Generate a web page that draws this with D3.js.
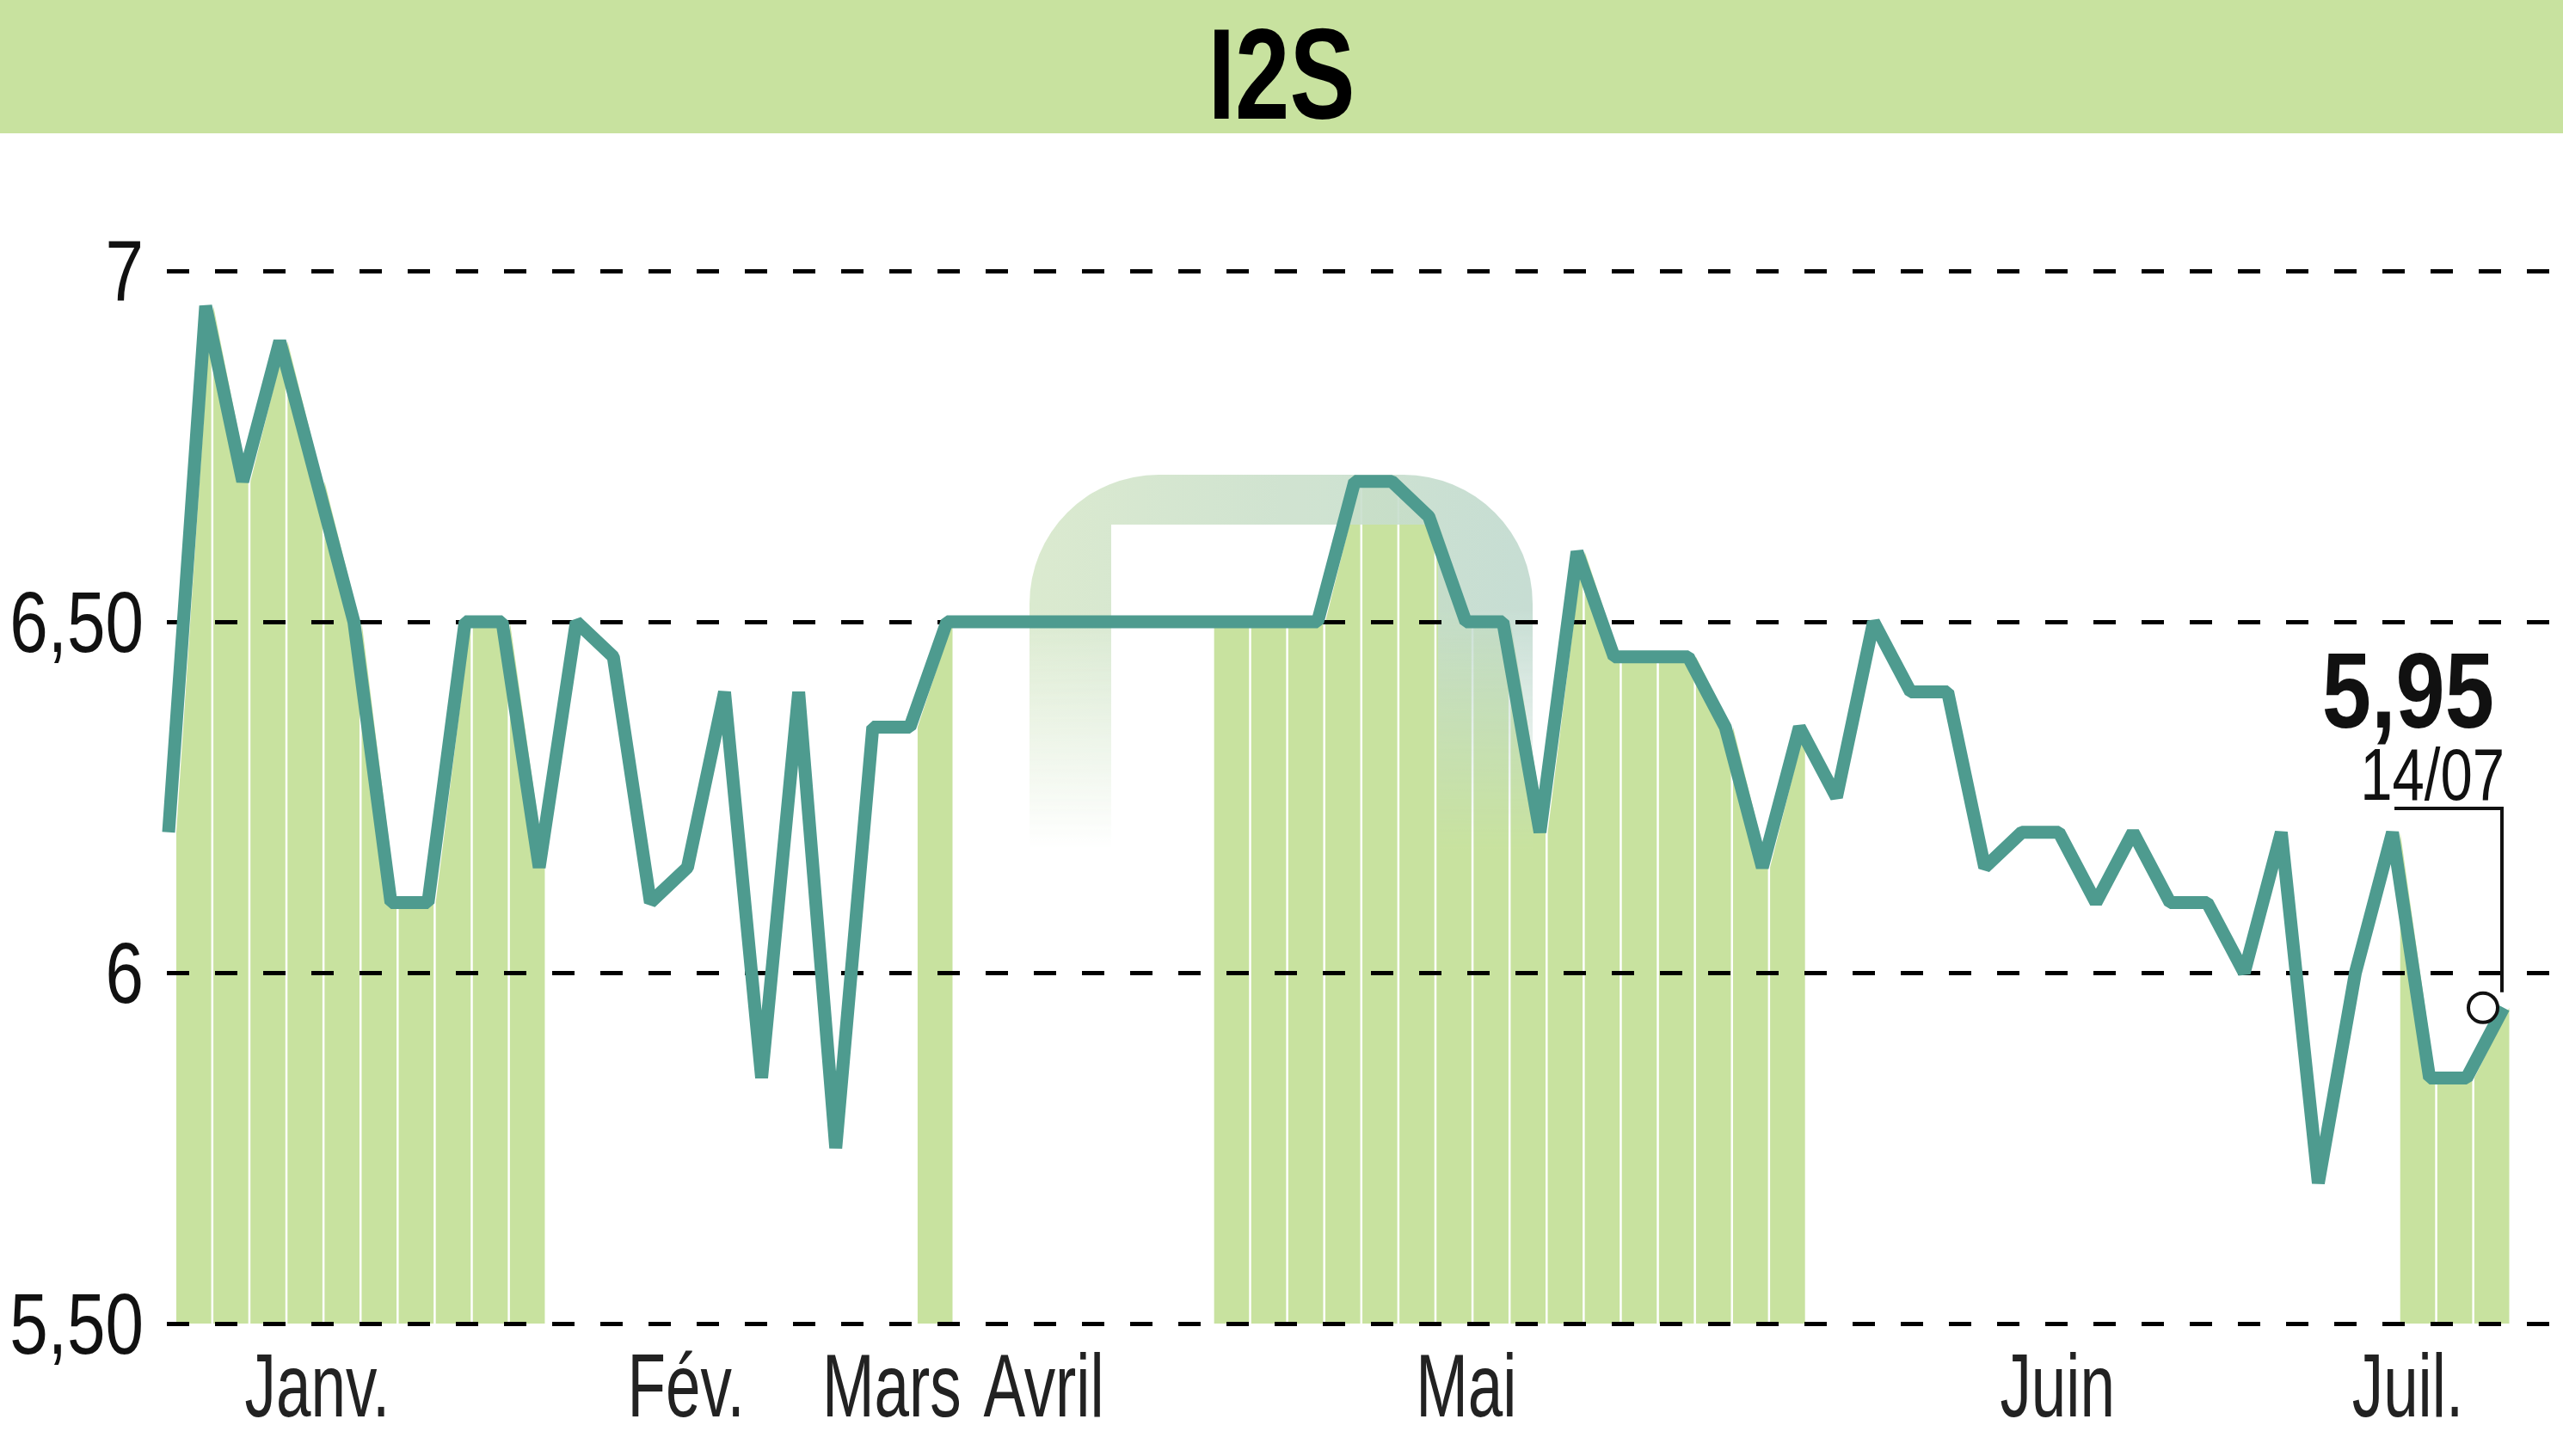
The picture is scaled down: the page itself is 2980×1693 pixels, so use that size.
<!DOCTYPE html>
<html>
<head>
<meta charset="utf-8">
<script src="https://cdn.jsdelivr.net/npm/d3@7/dist/d3.min.js"></script>
<style>
  body { margin: 0; background: #fff; }
  svg { display: block; }
</style>
</head>
<body>
<div id="chart"></div>
<script>
// I2S - closing price, one point per trading session

var prices = [
  6.20, 6.95, 6.70, 6.90, 6.70, 6.50, 6.10, 6.10, 6.50, 6.50,
  6.15, 6.50, 6.45, 6.10, 6.15, 6.40, 5.85, 6.40, 5.75, 6.35,
  6.35, 6.50, 6.50, 6.50, 6.50, 6.50, 6.50, 6.50, 6.50, 6.50,
  6.50, 6.50, 6.70, 6.70, 6.65, 6.50, 6.50, 6.20, 6.60, 6.45,
  6.45, 6.45, 6.35, 6.15, 6.35, 6.25, 6.50, 6.40, 6.40, 6.15,
  6.20, 6.20, 6.10, 6.20, 6.10, 6.10, 6.00, 6.20, 5.70, 6.00,
  6.20, 5.85, 5.85, 5.95
];

// runs of sessions with the green area under the line [from, to]
var shadedRuns = [[0, 9], [20, 20], [28, 43], [60, 62]];

var monthLabels = ["Janv.", "Fév.", "Mars", "Avril", "Mai", "Juin", "Juil."];
var monthPos = [4.0, 13.95, 19.5, 23.6, 35.0, 50.95, 60.4];

var yTicks = [5.5, 6, 6.5, 7];
var yTickLabels = ["5,50", "6", "6,50", "7"];

var title = "I2S";
var lastValue = "5,95";
var lastDate = "14/07";

var svgWidth = 2980, svgHeight = 1693;
var green = "#c8e29f", teal = "#4e9b8f";
var font = "'Liberation Sans', Arial, sans-serif";

function squeeze(sel, f) {
  sel.each(function() {
    var w = this.getComputedTextLength();
    d3.select(this).attr("textLength", w * f).attr("lengthAdjust", "spacingAndGlyphs");
  });
}

var svg = d3.select("#chart").append("svg")
  .attr("width", svgWidth)
  .attr("height", svgHeight);

var x = d3.scaleLinear()
  .domain([0, prices.length - 1])
  .range([196, 2911]);

var y = d3.scaleLinear()
  .domain([5.5, 7])
  .range([1539, 315]);

// title band
svg.append("rect")
  .attr("x", 0).attr("y", 0)
  .attr("width", svgWidth).attr("height", 155)
  .attr("fill", green);

svg.append("text")
  .attr("x", svgWidth / 2)
  .attr("y", 138)
  .attr("text-anchor", "middle")
  .attr("font-family", font)
  .attr("font-weight", "bold")
  .attr("font-size", 150)
  .attr("fill", "#000")
  .text(title)
  .call(squeeze, 0.76);

// green area strips under the line
var strip = d3.area()
  .x(function(d, k) { return x(d.i) + (k === 0 ? 9 : 6.5); })
  .y0(y(5.5))
  .y1(function(d) { return y(d.v); });

var bars = svg.append("g");
shadedRuns.forEach(function(run) {
  for (var i = run[0]; i <= run[1]; i++) {
    bars.append("path")
      .datum([{ i: i, v: prices[i] }, { i: i + 1, v: prices[i + 1] }])
      .attr("fill", green)
      .attr("d", strip);
  }
});

// faint logo watermark
var defs = svg.append("defs");
var wg = defs.append("linearGradient").attr("id", "wmGrad");
wg.append("stop").attr("offset", 0).attr("stop-color", "#d7e8ca");
wg.append("stop").attr("offset", 1).attr("stop-color", "#c1dacf");
var fg = defs.append("linearGradient").attr("id", "wmFade")
  .attr("x1", 0).attr("y1", 0).attr("x2", 0).attr("y2", 1);
fg.append("stop").attr("offset", 0).attr("stop-color", "#fff");
fg.append("stop").attr("offset", 0.3).attr("stop-color", "#fff");
fg.append("stop").attr("offset", 0.8).attr("stop-color", "#000");
defs.append("mask").attr("id", "wmMask")
  .append("rect")
  .attr("x", 1150).attr("y", 540).attr("width", 700).attr("height", 560)
  .attr("fill", "url(#wmFade)");

svg.append("path")
  .attr("d", "M1197,1100V702A150,150 0 0 1 1347,552H1632A150,150 0 0 1 1782,702V1100Z" +
             "M1292,1100V610H1672V1100Z")
  .attr("fill", "url(#wmGrad)")
  .attr("fill-rule", "evenodd")
  .attr("opacity", 0.9)
  .attr("mask", "url(#wmMask)");

// y axis + dashed grid
var yAxis = svg.append("g")
  .attr("transform", "translate(194,0)")
  .call(d3.axisLeft(y)
    .tickValues(yTicks)
    .tickFormat(function(d, i) { return yTickLabels[i]; })
    .tickSize(-(svgWidth - 194))
    .tickPadding(27));
yAxis.select(".domain").remove();
yAxis.selectAll(".tick line")
  .attr("stroke", "#000")
  .attr("stroke-width", 5)
  .attr("stroke-dasharray", "26 30");
yAxis.selectAll(".tick text")
  .attr("font-family", font)
  .attr("font-size", 100)
  .attr("fill", "#111")
  .attr("dy", "0.34em")
  .call(squeeze, 0.8);

// x axis month labels
var xAxis = svg.append("g")
  .attr("transform", "translate(0,1539)")
  .call(d3.axisBottom(x)
    .tickValues(monthPos)
    .tickFormat(function(d, i) { return monthLabels[i]; })
    .tickSize(0));
xAxis.select(".domain").remove();
xAxis.selectAll(".tick text")
  .attr("font-family", font)
  .attr("font-size", 104)
  .attr("fill", "#222")
  .attr("y", 108)
  .attr("dy", 0)
  .call(squeeze, 0.7);

// price line
var line = d3.line()
  .x(function(d, i) { return x(i); })
  .y(function(d) { return y(d); });

svg.append("path")
  .datum(prices)
  .attr("fill", "none")
  .attr("stroke", teal)
  .attr("stroke-width", 15)
  .attr("stroke-linejoin", "bevel")
  .attr("d", line);

// last value annotation
var last = prices.length - 1;
var cx = x(last) - 24, cy = y(prices[last]);

svg.append("path")
  .attr("d", "M2784,940H2909V" + (cy - 18))
  .attr("fill", "none")
  .attr("stroke", "#111")
  .attr("stroke-width", 4);

svg.append("circle")
  .attr("cx", cx).attr("cy", cy).attr("r", 17)
  .attr("fill", "#fff")
  .attr("stroke", "#111")
  .attr("stroke-width", 4);

svg.append("text")
  .attr("x", 2900).attr("y", 846)
  .attr("text-anchor", "end")
  .attr("font-family", font)
  .attr("font-weight", "bold")
  .attr("font-size", 124)
  .attr("fill", "#111")
  .text(lastValue)
  .call(squeeze, 0.83);

svg.append("text")
  .attr("x", 2912).attr("y", 930)
  .attr("text-anchor", "end")
  .attr("font-family", font)
  .attr("font-size", 86)
  .attr("fill", "#111")
  .text(lastDate)
  .call(squeeze, 0.78);
</script>
</body>
</html>
